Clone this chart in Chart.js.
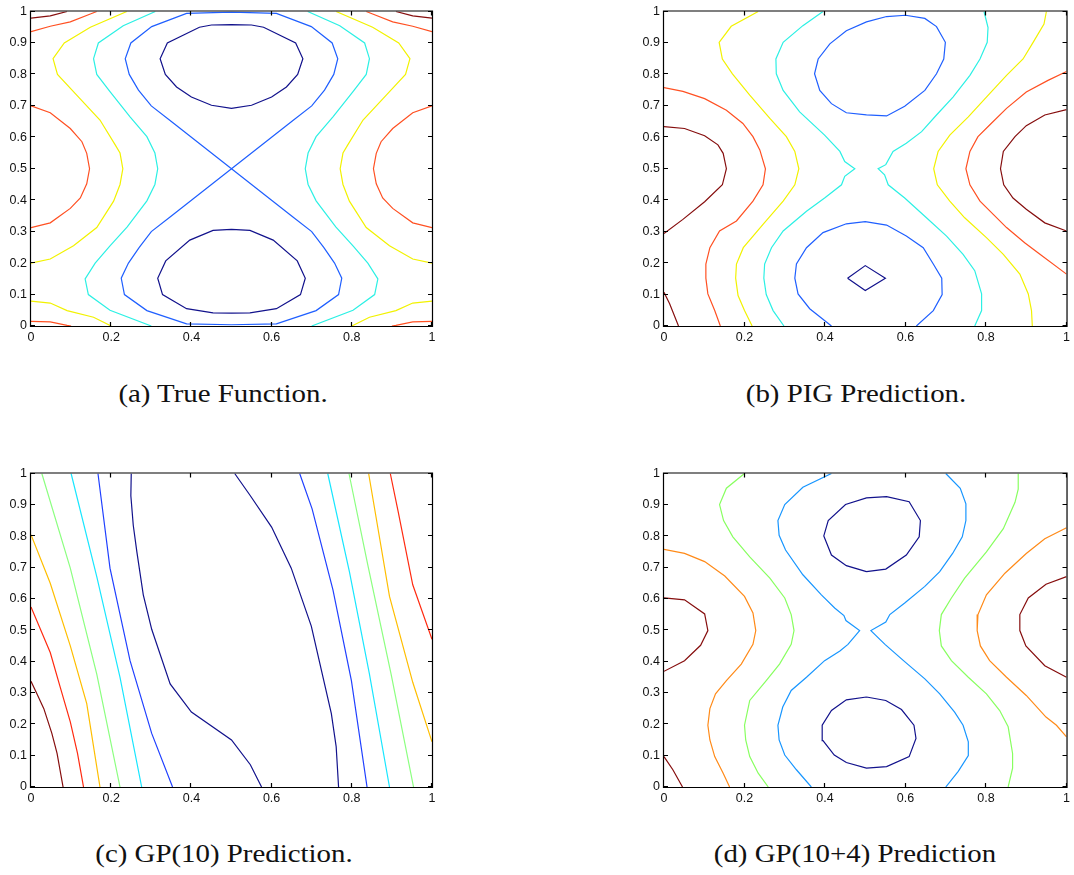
<!DOCTYPE html>
<html>
<head>
<meta charset="utf-8">
<script src="https://cdn.jsdelivr.net/npm/chart.js@4/dist/chart.umd.min.js"></script>
<style>
  html, body { margin: 0; padding: 0; background: #fff; }
  body { width: 1074px; height: 875px; position: relative; overflow: hidden; }
  canvas { position: absolute; }
  .cap { position: absolute; font-family: "Liberation Serif", "Times New Roman", serif; font-size: 26px; line-height: 26px; color: #111; white-space: nowrap; transform: translateX(-50%) scaleX(1.11); }
</style>
</head>
<body>
<canvas id="ca" width="445" height="345" style="left:0px;top:0px"></canvas>
<canvas id="cb" width="440" height="345" style="left:634px;top:0px"></canvas>
<canvas id="cc" width="445" height="345" style="left:0px;top:462px"></canvas>
<canvas id="cd" width="440" height="345" style="left:634px;top:462px"></canvas>
<div class="cap" style="left:223px;top:381px">(a) True Function.</div>
<div class="cap" style="left:856px;top:381px">(b) PIG Prediction.</div>
<div class="cap" style="left:224px;top:841px">(c) GP(10) Prediction.</div>
<div class="cap" style="left:855px;top:841px">(d) GP(10+4) Prediction</div>
<script>
// ---------- tick values / labels ----------
const xTickValues = [0, 0.2, 0.4, 0.6, 0.8, 1];
const xTickLabels = ['0', '0.2', '0.4', '0.6', '0.8', '1'];
const yTickValues = [0, 0.1, 0.2, 0.3, 0.4, 0.5, 0.6, 0.7, 0.8, 0.9, 1];
const yTickLabels = ['0', '0.1', '0.2', '0.3', '0.4', '0.5', '0.6', '0.7', '0.8', '0.9', '1'];

// ---------- (a) True Function ----------
const aNavyTop = [[0.5,0.958],[0.55,0.957],[0.58,0.95],[0.66,0.9],[0.678,0.85],[0.665,0.8],[0.637,0.76],[0.6,0.728],[0.55,0.702],[0.5,0.692],[0.45,0.702],[0.4,0.728],[0.363,0.76],[0.335,0.8],[0.322,0.85],[0.34,0.9],[0.42,0.95],[0.45,0.957],[0.5,0.958]];
const aNavyBottom = [[0.5,0.307],[0.546,0.304],[0.604,0.273],[0.664,0.207],[0.684,0.152],[0.672,0.1],[0.612,0.055],[0.546,0.042],[0.5,0.041],[0.454,0.042],[0.388,0.055],[0.328,0.1],[0.316,0.152],[0.336,0.207],[0.396,0.273],[0.454,0.304],[0.5,0.307]];
const aBlue = [[0.5,0.5],[0.4,0.6],[0.35,0.65],[0.3,0.7],[0.268,0.75],[0.245,0.8],[0.235,0.85],[0.249,0.9],[0.301,0.952],[0.388,0.994],[0.5,0.998],[0.612,0.994],[0.699,0.952],[0.751,0.9],[0.765,0.85],[0.755,0.8],[0.732,0.75],[0.7,0.7],[0.65,0.65],[0.6,0.6],[0.5,0.5],[0.4,0.4],[0.35,0.35],[0.3,0.3],[0.27,0.25],[0.243,0.2],[0.225,0.152],[0.233,0.1],[0.289,0.049],[0.388,0.007],[0.5,0.004],[0.612,0.007],[0.711,0.049],[0.767,0.1],[0.775,0.152],[0.757,0.2],[0.73,0.25],[0.7,0.3],[0.65,0.35],[0.6,0.4],[0.5,0.5]];
const aCyanLeft = [[0.31,1],[0.23,0.955],[0.168,0.9],[0.156,0.85],[0.164,0.8],[0.197,0.745],[0.247,0.665],[0.289,0.602],[0.309,0.55],[0.316,0.5],[0.309,0.45],[0.289,0.398],[0.24,0.315],[0.197,0.255],[0.16,0.2],[0.135,0.15],[0.143,0.1],[0.197,0.05],[0.3,0]];
const aCyanRight = [[0.69,1],[0.77,0.955],[0.832,0.9],[0.844,0.85],[0.836,0.8],[0.803,0.745],[0.753,0.665],[0.711,0.602],[0.691,0.55],[0.684,0.5],[0.691,0.45],[0.711,0.398],[0.76,0.315],[0.803,0.255],[0.84,0.2],[0.865,0.15],[0.857,0.1],[0.803,0.05],[0.7,0]];
const aYellowLeft = [[0.239,1],[0.148,0.95],[0.083,0.9],[0.055,0.85],[0.066,0.8],[0.114,0.734],[0.172,0.655],[0.21,0.576],[0.222,0.55],[0.229,0.5],[0.222,0.45],[0.206,0.397],[0.164,0.313],[0.106,0.255],[0.048,0.213],[0,0.2]];
const aYellowRight = [[0.761,1],[0.852,0.95],[0.917,0.9],[0.945,0.85],[0.934,0.8],[0.886,0.734],[0.828,0.655],[0.79,0.576],[0.778,0.55],[0.771,0.5],[0.778,0.45],[0.794,0.397],[0.836,0.313],[0.894,0.255],[0.952,0.213],[1,0.2]];
const aYellowBL = [[0,0.079],[0.048,0.073],[0.09,0.049],[0.156,0.028],[0.2,0]];
const aYellowBR = [[1,0.079],[0.952,0.073],[0.91,0.049],[0.844,0.028],[0.8,0]];
const aRedLeft = [[0,0.7],[0.048,0.678],[0.098,0.628],[0.127,0.586],[0.139,0.549],[0.146,0.5],[0.139,0.452],[0.123,0.407],[0.098,0.374],[0.048,0.328],[0,0.313]];
const aRedRight = [[1,0.7],[0.952,0.678],[0.902,0.628],[0.873,0.586],[0.861,0.549],[0.854,0.5],[0.861,0.452],[0.877,0.407],[0.902,0.374],[0.952,0.328],[1,0.313]];
const aRedTL = [[0,0.936],[0.048,0.953],[0.098,0.967],[0.148,0.992],[0.164,1]];
const aRedTR = [[1,0.936],[0.952,0.953],[0.902,0.967],[0.852,0.992],[0.836,1]];
const aRedBL = [[0,0.015],[0.048,0.013],[0.09,0.002],[0.1,0]];
const aRedBR = [[1,0.015],[0.952,0.013],[0.91,0.002],[0.9,0]];
const aDarkTL = [[0,0.979],[0.048,0.986],[0.09,1]];
const aDarkTR = [[1,0.979],[0.952,0.986],[0.91,1]];

// ---------- (b) PIG Prediction ----------
const bNavy = [[0.456,0.152],[0.5,0.192],[0.55,0.152],[0.5,0.113],[0.456,0.152]];
const bBlueTop = [[0.503,0.671],[0.553,0.668],[0.598,0.699],[0.648,0.749],[0.677,0.802],[0.695,0.849],[0.699,0.902],[0.677,0.952],[0.648,0.978],[0.6,0.988],[0.553,0.984],[0.503,0.967],[0.453,0.939],[0.412,0.897],[0.383,0.849],[0.374,0.802],[0.387,0.749],[0.416,0.707],[0.453,0.678],[0.503,0.671]];
const bBlueBottom = [[0.416,0],[0.362,0.055],[0.333,0.102],[0.325,0.152],[0.329,0.197],[0.354,0.249],[0.395,0.297],[0.453,0.325],[0.5,0.332],[0.553,0.321],[0.602,0.286],[0.644,0.249],[0.669,0.197],[0.69,0.152],[0.691,0.1],[0.669,0.049],[0.627,0]];
const bCyanLeft = [[0.395,1],[0.345,0.955],[0.296,0.902],[0.278,0.849],[0.279,0.802],[0.296,0.749],[0.337,0.681],[0.399,0.607],[0.437,0.555],[0.449,0.523],[0.474,0.5],[0.449,0.476],[0.441,0.449],[0.399,0.407],[0.354,0.365],[0.296,0.302],[0.267,0.249],[0.25,0.197],[0.248,0.152],[0.254,0.1],[0.271,0.049],[0.298,0]];
const bCyanRight = [[0.795,1],[0.805,0.949],[0.803,0.902],[0.785,0.849],[0.76,0.797],[0.718,0.728],[0.677,0.671],[0.64,0.618],[0.602,0.581],[0.569,0.555],[0.551,0.513],[0.532,0.5],[0.548,0.481],[0.557,0.449],[0.598,0.407],[0.652,0.344],[0.702,0.286],[0.743,0.228],[0.772,0.176],[0.789,0.102],[0.789,0.049],[0.772,0]];
const bYellowLeft = [[0.234,1],[0.167,0.953],[0.137,0.902],[0.145,0.849],[0.17,0.802],[0.213,0.734],[0.263,0.66],[0.304,0.602],[0.325,0.555],[0.335,0.5],[0.325,0.449],[0.296,0.397],[0.246,0.323],[0.197,0.249],[0.18,0.197],[0.178,0.152],[0.184,0.097],[0.2,0.049],[0.219,0]];
const bYellowRight = [[0.95,1],[0.944,0.96],[0.917,0.902],[0.892,0.849],[0.851,0.797],[0.809,0.739],[0.756,0.665],[0.71,0.607],[0.681,0.555],[0.67,0.5],[0.679,0.449],[0.71,0.397],[0.747,0.344],[0.801,0.281],[0.843,0.228],[0.884,0.165],[0.905,0.102],[0.913,0.049],[0.915,0]];
const bRedLeft = [[0,0.758],[0.047,0.746],[0.101,0.723],[0.155,0.686],[0.196,0.644],[0.221,0.602],[0.238,0.56],[0.252,0.5],[0.246,0.449],[0.221,0.397],[0.18,0.334],[0.138,0.302],[0.114,0.249],[0.104,0.197],[0.104,0.152],[0.109,0.102],[0.126,0.049],[0.14,0]];
const bRedRight = [[1,0.809],[0.954,0.781],[0.9,0.744],[0.851,0.692],[0.809,0.639],[0.78,0.602],[0.76,0.555],[0.75,0.5],[0.76,0.449],[0.785,0.397],[0.818,0.355],[0.851,0.313],[0.896,0.265],[0.934,0.228],[1,0.165]];
const bDarkLeft = [[0,0.634],[0.051,0.628],[0.101,0.605],[0.134,0.576],[0.147,0.549],[0.155,0.5],[0.145,0.449],[0.101,0.395],[0.047,0.339],[0,0.294]];
const bDarkRight = [[1,0.688],[0.946,0.671],[0.9,0.637],[0.872,0.602],[0.843,0.555],[0.836,0.5],[0.844,0.449],[0.867,0.407],[0.9,0.371],[0.946,0.328],[1,0.302]];
const bDarkBL = [[0,0.107],[0.014,0.071],[0.036,0]];

// ---------- (c) GP(10) Prediction ----------
const cDarkRed = [[0,0.337],[0.015,0.297],[0.032,0.25],[0.052,0.171],[0.065,0.107],[0.08,0]];
const cRedLeft = [[0,0.574],[0.048,0.429],[0.073,0.318],[0.098,0.208],[0.116,0.107],[0.131,0]];
const cOrangeLeft = [[0,0.805],[0.048,0.65],[0.098,0.45],[0.139,0.266],[0.172,0]];
const cGreenLeft = [[0.027,1],[0.098,0.698],[0.164,0.36],[0.222,0]];
const cCyanLeft = [[0.1,1],[0.164,0.671],[0.222,0.35],[0.276,0]];
const cBlueLeft = [[0.167,1],[0.197,0.698],[0.247,0.403],[0.301,0.171],[0.353,0]];
const cNavyLeft = [[0.25,1],[0.249,0.929],[0.255,0.835],[0.264,0.75],[0.28,0.613],[0.301,0.503],[0.347,0.329],[0.4,0.239],[0.5,0.15],[0.547,0.071],[0.575,0]];
const cNavyRight = [[0.508,1],[0.547,0.929],[0.6,0.829],[0.649,0.698],[0.699,0.513],[0.749,0.234],[0.761,0.129],[0.767,0]];
const cBlueRight = [[0.67,1],[0.701,0.887],[0.753,0.629],[0.799,0.339],[0.838,0]];
const cCyanRight = [[0.74,1],[0.794,0.687],[0.844,0.36],[0.894,0]];
const cGreenRight = [[0.793,1],[0.84,0.708],[0.898,0.36],[0.954,0]];
const cOrangeRight = [[0.842,1],[0.894,0.608],[0.952,0.334],[1,0.144]];
const cRedRight = [[0.896,1],[0.915,0.882],[0.952,0.645],[1,0.471]];

// ---------- (d) GP(10+4) Prediction ----------
const dNavyTop = [[0.503,0.687],[0.551,0.695],[0.602,0.74],[0.634,0.798],[0.637,0.85],[0.609,0.91],[0.553,0.926],[0.503,0.922],[0.451,0.901],[0.408,0.85],[0.397,0.801],[0.416,0.74],[0.453,0.706],[0.503,0.687]];
const dNavyBottom = [[0.503,0.287],[0.551,0.276],[0.59,0.247],[0.621,0.197],[0.626,0.155],[0.609,0.097],[0.553,0.065],[0.503,0.06],[0.453,0.078],[0.423,0.102],[0.395,0.148],[0.393,0.197],[0.416,0.244],[0.453,0.278],[0.503,0.287]];
const dBlueLeft = [[0.416,1],[0.345,0.956],[0.3,0.901],[0.283,0.85],[0.286,0.803],[0.302,0.756],[0.345,0.677],[0.391,0.613],[0.424,0.571],[0.447,0.547],[0.452,0.531],[0.486,0.499],[0.457,0.455],[0.437,0.434],[0.399,0.403],[0.354,0.35],[0.316,0.308],[0.295,0.255],[0.283,0.197],[0.286,0.15],[0.3,0.102],[0.329,0.055],[0.366,0]];
const dBlueRight = [[0.7,1],[0.736,0.953],[0.75,0.903],[0.75,0.85],[0.741,0.798],[0.717,0.745],[0.685,0.687],[0.648,0.64],[0.598,0.587],[0.561,0.55],[0.551,0.526],[0.514,0.499],[0.549,0.455],[0.595,0.403],[0.648,0.345],[0.685,0.297],[0.722,0.239],[0.743,0.197],[0.756,0.144],[0.756,0.1],[0.731,0.05],[0.7,0]];
const dGreenLeft = [[0.2,1],[0.155,0.953],[0.138,0.901],[0.148,0.85],[0.171,0.798],[0.213,0.734],[0.263,0.666],[0.3,0.603],[0.316,0.55],[0.323,0.499],[0.316,0.455],[0.287,0.392],[0.254,0.339],[0.213,0.276],[0.2,0.197],[0.203,0.15],[0.213,0.097],[0.234,0.044],[0.259,0]];
const dGreenRight = [[0.88,1],[0.88,0.95],[0.872,0.908],[0.843,0.824],[0.801,0.75],[0.747,0.666],[0.714,0.603],[0.689,0.55],[0.684,0.499],[0.689,0.45],[0.714,0.403],[0.756,0.35],[0.801,0.297],[0.834,0.244],[0.855,0.192],[0.866,0.107],[0.866,0.06],[0.855,0]];
const dOrangeLeft = [[0,0.758],[0.051,0.745],[0.101,0.719],[0.151,0.673],[0.2,0.608],[0.221,0.555],[0.228,0.499],[0.221,0.455],[0.192,0.392],[0.155,0.339],[0.128,0.297],[0.114,0.25],[0.109,0.197],[0.114,0.15],[0.126,0.097],[0.147,0.044],[0.163,0]];
const dOrangeRight = [[1,0.827],[0.946,0.792],[0.9,0.745],[0.847,0.682],[0.801,0.613],[0.78,0.55],[0.778,0.499],[0.786,0.45],[0.809,0.403],[0.851,0.35],[0.9,0.292],[0.949,0.223],[0.975,0.197],[1,0.16]];
const dDarkLeft = [[0,0.603],[0.051,0.597],[0.101,0.552],[0.109,0.499],[0.091,0.452],[0.051,0.403],[0,0.369]];
const dDarkRight = [[1,0.671],[0.949,0.647],[0.905,0.603],[0.884,0.55],[0.884,0.499],[0.899,0.45],[0.946,0.387],[1,0.35]];
const dDarkBL = [[0,0.097],[0.022,0.055],[0.046,0]];

// ---------- colours ----------
const C = {
  navy: '#12128c', blue: '#1f5fff', cyan: '#2cf0e4', yellow: '#f2f200', red: '#ff5022', dark: '#860e0e',
  cBlue: '#2040ff', cCyan: '#18e6ff', green: '#8cff80', orange: '#ffbe00', cRed: '#ff2a10',
  sky: '#1896ff', dGreen: '#88ff60', dOrange: '#ff8a18'
};

const toXY = arr => arr.map(p => ({ x: p[0], y: p[1] }));
const ds = (arr, color) => ({ data: toXY(arr), borderColor: color, borderWidth: 1.2, showLine: true, pointRadius: 0, fill: false, tension: 0 });

const framePlugin = {
  id: 'frame',
  afterDraw(chart) {
    const { ctx, chartArea: a, scales } = chart;
    const x = scales.x, y = scales.y;
    ctx.save();
    ctx.strokeStyle = '#000';
    ctx.lineWidth = 1.2;
    ctx.beginPath();
    ctx.rect(a.left - 0.5, a.top - 0.5, a.right - a.left + 1, a.bottom - a.top + 1);
    x.ticks.forEach(t => {
      const p = Math.round(x.getPixelForValue(t.value)) - 0.5;
      ctx.moveTo(p, a.bottom); ctx.lineTo(p, a.bottom - 4);
      ctx.moveTo(p, a.top); ctx.lineTo(p, a.top + 4);
    });
    y.ticks.forEach(t => {
      const p = Math.round(y.getPixelForValue(t.value)) - 0.5;
      ctx.moveTo(a.left, p); ctx.lineTo(a.left + 4, p);
      ctx.moveTo(a.right, p); ctx.lineTo(a.right - 4, p);
    });
    ctx.stroke();
    ctx.restore();
  }
};

function makeChart(id, datasets, geom) {
  const font = { family: '"Liberation Sans", Arial, Helvetica, sans-serif', size: 12.5 };
  return new Chart(document.getElementById(id), {
    type: 'scatter',
    data: { datasets },
    plugins: [framePlugin],
    options: {
      responsive: false,
      animation: false,
      devicePixelRatio: 1,
      events: [],
      layout: { padding: { left: 0, top: geom.top, right: geom.right, bottom: 0 } },
      plugins: { legend: { display: false }, tooltip: { enabled: false } },
      scales: {
        x: {
          type: 'linear', min: 0, max: 1, position: 'bottom',
          grid: { display: false, drawTicks: false },
          border: { display: false },
          afterBuildTicks: s => { s.ticks = xTickValues.map(v => ({ value: v })); },
          afterFit: s => { s.height = geom.xh; },
          ticks: { font, color: '#111', padding: 4, maxRotation: 0, autoSkip: false,
                   callback: (v, i) => xTickLabels[i] }
        },
        y: {
          type: 'linear', min: 0, max: 1, position: 'left',
          grid: { display: false, drawTicks: false },
          border: { display: false },
          afterBuildTicks: s => { s.ticks = yTickValues.map(v => ({ value: v })); },
          afterFit: s => { s.width = geom.yw; },
          ticks: { font, color: '#111', padding: 4, autoSkip: false,
                   callback: (v, i) => yTickLabels[i] }
        }
      }
    }
  });
}

makeChart('ca', [
  ds(aNavyTop, C.navy), ds(aNavyBottom, C.navy), ds(aBlue, C.blue),
  ds(aCyanLeft, C.cyan), ds(aCyanRight, C.cyan),
  ds(aYellowLeft, C.yellow), ds(aYellowRight, C.yellow), ds(aYellowBL, C.yellow), ds(aYellowBR, C.yellow),
  ds(aRedLeft, C.red), ds(aRedRight, C.red), ds(aRedTL, C.red), ds(aRedTR, C.red), ds(aRedBL, C.red), ds(aRedBR, C.red),
  ds(aDarkTL, C.dark), ds(aDarkTR, C.dark)
], { top: 9, right: 13, xh: 19, yw: 31 });

makeChart('cb', [
  ds(bNavy, C.navy), ds(bBlueTop, C.blue), ds(bBlueBottom, C.blue),
  ds(bCyanLeft, C.cyan), ds(bCyanRight, C.cyan),
  ds(bYellowLeft, C.yellow), ds(bYellowRight, C.yellow),
  ds(bRedLeft, C.red), ds(bRedRight, C.red),
  ds(bDarkLeft, C.dark), ds(bDarkRight, C.dark), ds(bDarkBL, C.dark)
], { top: 9, right: 7, xh: 19, yw: 30 });

makeChart('cc', [
  ds(cDarkRed, C.dark), ds(cRedLeft, C.cRed), ds(cOrangeLeft, C.orange), ds(cGreenLeft, C.green),
  ds(cCyanLeft, C.cCyan), ds(cBlueLeft, C.cBlue), ds(cNavyLeft, C.navy),
  ds(cNavyRight, C.navy), ds(cBlueRight, C.cBlue), ds(cCyanRight, C.cCyan), ds(cGreenRight, C.green),
  ds(cOrangeRight, C.orange), ds(cRedRight, C.cRed)
], { top: 9, right: 13, xh: 20, yw: 31 });

makeChart('cd', [
  ds(dNavyTop, C.navy), ds(dNavyBottom, C.navy),
  ds(dBlueLeft, C.sky), ds(dBlueRight, C.sky),
  ds(dGreenLeft, C.dGreen), ds(dGreenRight, C.dGreen),
  ds(dOrangeLeft, C.dOrange), ds(dOrangeRight, C.dOrange),
  ds(dDarkLeft, C.dark), ds(dDarkRight, C.dark), ds(dDarkBL, C.dark)
], { top: 9, right: 7, xh: 20, yw: 30 });
</script>
</body>
</html>
